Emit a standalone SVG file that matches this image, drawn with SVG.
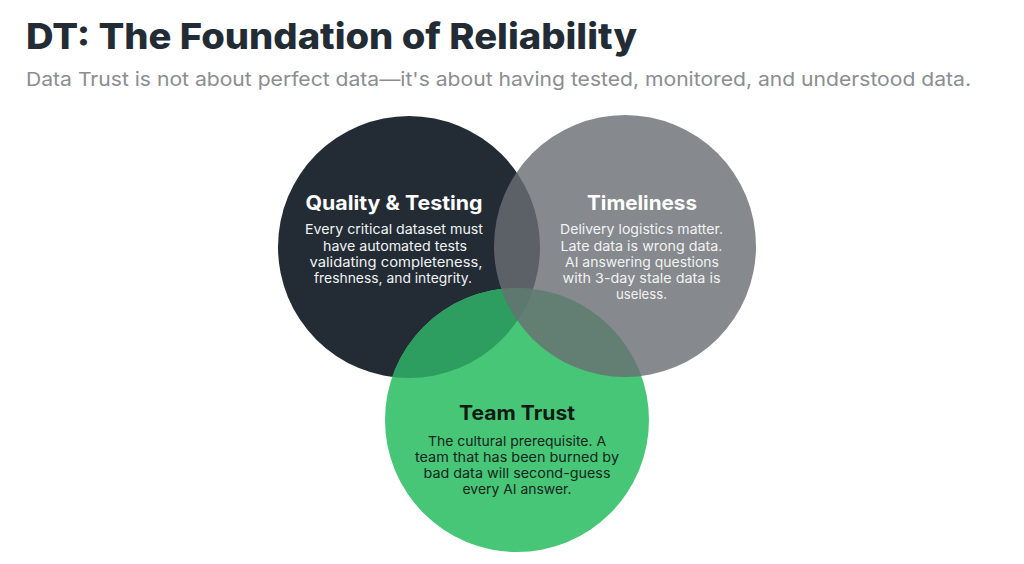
<svg xmlns="http://www.w3.org/2000/svg" width="1024" height="564" viewBox="0 0 1024 564">
  <style>
    .title { font-family: Inter, "Open Sans", "Liberation Sans", sans-serif; font-weight: 800; font-size: 36px; fill: #232c35; }
    .sub { font-family: Inter, "Open Sans", "Liberation Sans", sans-serif; font-weight: 400; font-size: 19px; fill: #8a8d91; }
    .head { font-family: Inter, "Open Sans", "Liberation Sans", sans-serif; font-weight: 700; font-size: 20px; text-anchor: middle; }
    .body { font-family: Inter, "Open Sans", "Liberation Sans", sans-serif; font-weight: 400; font-size: 13.6px; text-anchor: middle; }
    .light { fill: #ffffff; }
    .lightb { fill: #f2f3f4; }
    .darkh { fill: #0e1a12; }
    .darkb { fill: #16241a; }
  </style>
  <defs>
    <clipPath id="clipGreen"><circle cx="517" cy="420" r="132"/></clipPath>
  </defs>
  <rect width="1024" height="564" fill="#ffffff"/>
  <text class="title" x="26" y="49" textLength="611" lengthAdjust="spacingAndGlyphs">DT: The Foundation of Reliability</text>
  <text class="sub" x="26" y="86" textLength="945" lengthAdjust="spacingAndGlyphs">Data Trust is not about perfect data—it's about having tested, monitored, and understood data.</text>

  <g id="quality-testing">
    <circle cx="409" cy="247" r="131" fill="#232c35"/>
  </g>
  <g id="team-trust">
    <circle cx="517" cy="420" r="132" fill="#47c678"/>
  </g>
  <g id="overlap-quality-team">
    <circle cx="409" cy="247" r="131" fill="#2d9e5f" clip-path="url(#clipGreen)"/>
  </g>
  <g id="timeliness">
    <circle cx="625" cy="246" r="131" fill="#6a6e73" fill-opacity="0.81"/>
  </g>

  <g id="quality-testing-text">
    <text class="head light" x="394" y="210" textLength="177" lengthAdjust="spacingAndGlyphs">Quality &amp; Testing</text>
    <text class="body lightb" x="394" y="234" textLength="178" lengthAdjust="spacingAndGlyphs">Every critical dataset must</text>
    <text class="body lightb" x="395" y="250.5" textLength="144" lengthAdjust="spacingAndGlyphs">have automated tests</text>
    <text class="body lightb" x="396" y="266.5" textLength="173" lengthAdjust="spacingAndGlyphs">validating completeness,</text>
    <text class="body lightb" x="393" y="282.5" textLength="158" lengthAdjust="spacingAndGlyphs">freshness, and integrity.</text>
  </g>
  <g id="timeliness-text">
    <text class="head light" x="642" y="210" textLength="110" lengthAdjust="spacingAndGlyphs">Timeliness</text>
    <text class="body lightb" x="641.5" y="234" textLength="163" lengthAdjust="spacingAndGlyphs">Delivery logistics matter.</text>
    <text class="body lightb" x="641.5" y="250.5" textLength="162" lengthAdjust="spacingAndGlyphs">Late data is wrong data.</text>
    <text class="body lightb" x="642" y="266.5" textLength="154" lengthAdjust="spacingAndGlyphs">AI answering questions</text>
    <text class="body lightb" x="641.5" y="282.5" textLength="158" lengthAdjust="spacingAndGlyphs">with 3-day stale data is</text>
    <text class="body lightb" x="641.5" y="298.5" textLength="51" lengthAdjust="spacingAndGlyphs">useless.</text>
  </g>
  <g id="team-trust-text">
    <text class="head darkh" x="517" y="420" textLength="116" lengthAdjust="spacingAndGlyphs">Team Trust</text>
    <text class="body darkb" x="517" y="445.5" textLength="178" lengthAdjust="spacingAndGlyphs">The cultural prerequisite. A</text>
    <text class="body darkb" x="517" y="461.5" textLength="204" lengthAdjust="spacingAndGlyphs">team that has been burned by</text>
    <text class="body darkb" x="517" y="477.5" textLength="187" lengthAdjust="spacingAndGlyphs">bad data will second-guess</text>
    <text class="body darkb" x="517" y="493.5" textLength="109" lengthAdjust="spacingAndGlyphs">every AI answer.</text>
  </g>
  <g id="connectors"/>
</svg>
